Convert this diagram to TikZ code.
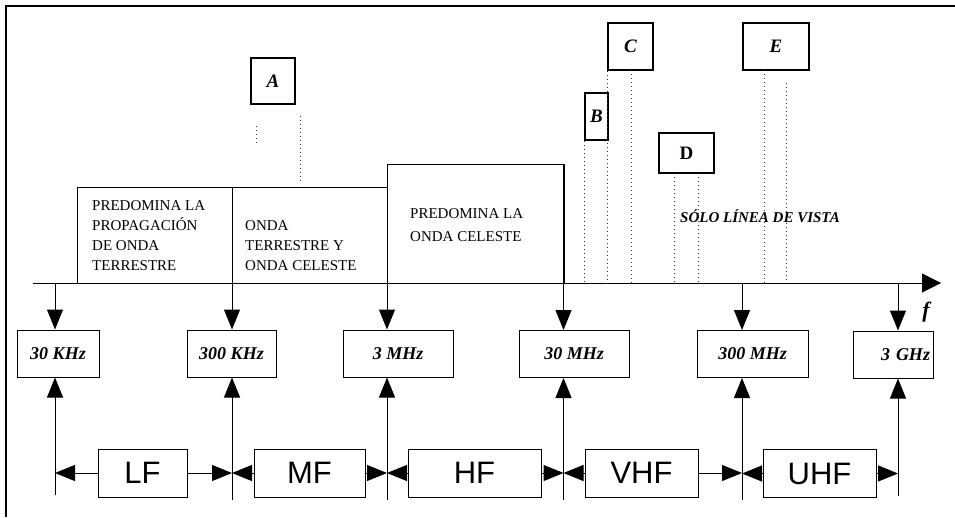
\documentclass[tikz,border=0pt]{standalone}
\usepackage{fontspec}
\setmainfont{Liberation Serif}
\newfontfamily\bandfont{Liberation Sans}
\usetikzlibrary{arrows.meta}
\begin{document}
\begin{tikzpicture}[x=1pt,y=-1pt,
 every node/.style={inner sep=0pt},
 lw/.style={line width=1pt},
 freqbox/.style={draw, line width=1pt, minimum height=47pt, font=\fontsize{18}{20}\selectfont\bfseries\itshape},
 bandbox/.style={draw, line width=1pt, minimum height=48pt, font=\bandfont\fontsize{31}{31}\selectfont},
 txtbox/.style={draw, line width=1pt},
 letterbox/.style={draw, line width=1.2pt, font=\fontsize{19}{19}\selectfont\bfseries\itshape},
 btext/.style={font=\fontsize{15}{20}\selectfont, align=left, anchor=north west},
 tip/.style={-{Triangle[length=20pt,width=16pt]}},
 vis/.style={line width=0.7pt, dash pattern=on 1pt off 3pt, black!80},
]
\useasboundingbox (0,0) rectangle (955,517);
% frame
\draw[line width=2.5pt] (6,517) -- (6,6) -- (955,6);

% upper text boxes
\node[txtbox, minimum width=155pt, minimum height=96pt] (p1) at (154.5,235) {};
\node[txtbox, minimum width=155pt, minimum height=96pt] (p2) at (309.5,235) {};
\node[txtbox, minimum width=177pt, minimum height=119pt] (p3) at (475.5,223.5) {};
\node[btext] (p1t) at (92,200) {PREDOMINA LA\\PROPAGACIÓN\\DE ONDA\\TERRESTRE};
\node[btext] (p2t) at (245,220) {ONDA\\TERRESTRE Y\\ONDA CELESTE};
\node[btext, font=\fontsize{15}{23}\selectfont] (p3t) at (410,208) {PREDOMINA LA\\ONDA CELESTE};

% axis
\coordinate (ax0) at (33,283);
\coordinate (ax1) at (941,283);
\draw[lw, -{Triangle[length=19pt,width=19pt]}] (ax0) -- (ax1);
\node[font=\fontsize{22}{22}\selectfont\bfseries\itshape] (flab) at (926,312) {f};

% frequency boxes
\node[freqbox, minimum width=82pt] (f1) at (58,353.5) {30 KHz};
\node[freqbox, minimum width=89pt] (f2) at (231.5,353.5) {300 KHz};
\node[freqbox, minimum width=110pt] (f3) at (398,353.5) {3 MHz};
\node[freqbox, minimum width=110pt] (f4) at (574,354) {30 MHz};
\node[freqbox, minimum width=111pt] (f5) at (752.5,354) {300 MHz};
\node[freqbox, minimum width=80pt, text width=74pt, align=right] (f6) at (893,354.5) {3 GHz};

% band boxes
\node[bandbox, minimum width=89pt] (LF) at (142.5,473) {LF};
\node[bandbox, minimum width=111pt] (MF) at (309.5,473) {MF};
\node[bandbox, minimum width=133pt] (HF) at (474.5,473) {HF};
\node[bandbox, minimum width=113pt] (VHF) at (641.5,473) {VHF};
\node[bandbox, minimum width=113pt] (UHF) at (819.5,473.5) {UHF};

% tick tops
\coordinate (t1) at (55,283);
\coordinate (t2) at (232,187);
\coordinate (t3) at (387,164);
\coordinate (t4) at (563.5,164);
\coordinate (t5) at (742,283);
\coordinate (t6) at (898,283);
% tick bottoms
\coordinate (b1) at (55,495);
\coordinate (b2) at (232,500);
\coordinate (b3) at (387,500);
\coordinate (b4) at (563.5,500);
\coordinate (b5) at (742,500);
\coordinate (b6) at (898,496);

\foreach \i in {1,...,6}{
  \draw[lw,tip] (t\i) -- (t\i |- f\i.north);
  \draw[lw,tip] (b\i) -- (b\i |- f\i.south);
}

% band arrows
\draw[lw,tip] (LF.west) -- (LF.west -| b1);
\draw[lw,tip] (LF.east) -- (LF.east -| b2);
\draw[lw,tip] (MF.west) -- (MF.west -| b2);
\draw[lw,tip] (MF.east) -- (MF.east -| b3);
\draw[lw,tip] (HF.west) -- (HF.west -| b3);
\draw[lw,tip] (HF.east) -- (HF.east -| b4);
\draw[lw,tip] (VHF.west) -- (VHF.west -| b4);
\draw[lw,tip] (VHF.east) -- (VHF.east -| b5);
\draw[lw,tip] (UHF.west) -- (UHF.west -| b5);
\draw[lw,tip] (UHF.east) -- (UHF.east -| b6);

% letter boxes
\node[letterbox, minimum width=44pt, minimum height=46pt] (A) at (273,81) {A};
\node[letterbox, minimum width=23pt, minimum height=47pt] (B) at (596.5,116.5) {B};
\node[letterbox, minimum width=45pt, minimum height=47pt] (C) at (630.5,46.5) {C};
\node[letterbox, minimum width=55pt, minimum height=40pt, font=\fontsize{19}{19}\selectfont\bfseries] (D) at (686.5,153) {D};
\node[letterbox, minimum width=66pt, minimum height=47pt] (E) at (776,46.5) {E};

% dotted sight lines
\coordinate (a1) at (256,126); \coordinate (a1e) at (256,143);
\coordinate (a2) at (300,116); \coordinate (a2e) at (300,183);
\draw[vis] (a1) -- (a1e);
\draw[vis] (a2) -- (a2e);
\draw[vis] (B.south west) -- (B.south west |- ax0);
\draw[vis] (C.south west) -- (C.south west |- ax0);
\coordinate (c2) at (631,70);
\draw[vis] (c2) -- (c2 |- ax0);
\coordinate (d1) at (674,173);
\coordinate (d2) at (698,173);
\draw[vis] (d1) -- (d1 |- ax0);
\draw[vis] (d2) -- (d2 |- ax0);
\coordinate (e1) at (764,70);
\coordinate (e2) at (786,83);
\draw[vis] (e1) -- (e1 |- ax0);
\draw[vis] (e2) -- (e2 |- ax0);

\node[font=\fontsize{15}{15}\selectfont\bfseries\itshape] (sol) at (760,216) {SÓLO LÍNEA DE VISTA};
\end{tikzpicture}
\end{document}
